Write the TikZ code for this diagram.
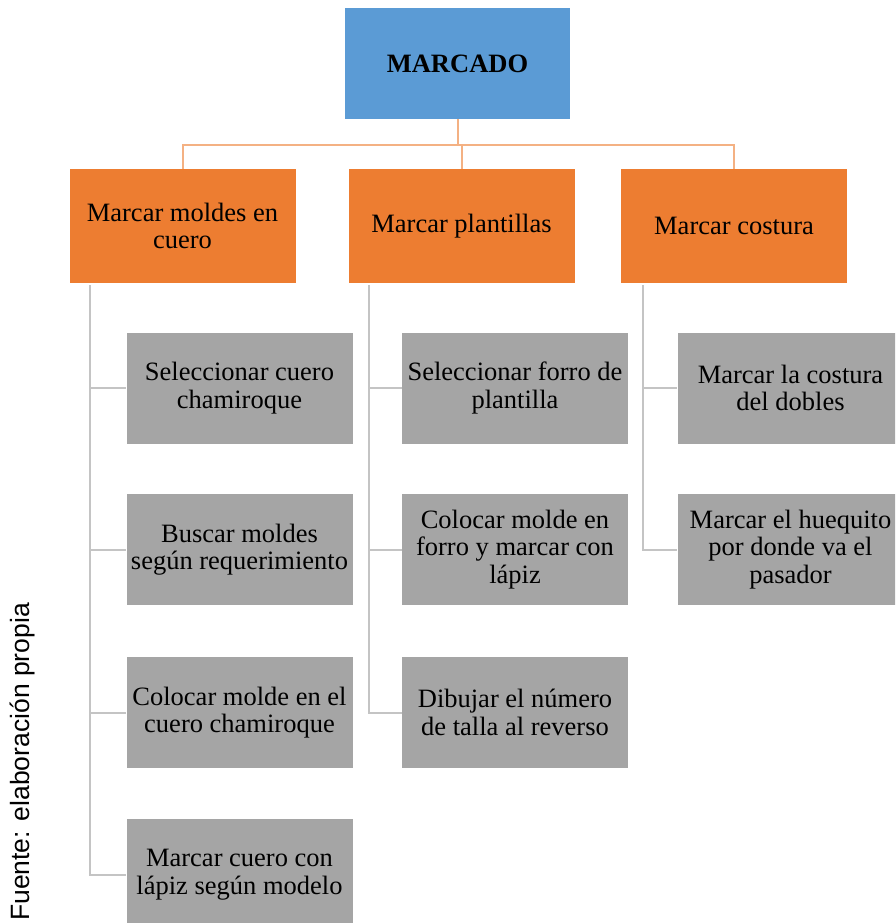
\documentclass[tikz,border=0pt]{standalone}
\usepackage{fontspec}
\setmainfont{Liberation Serif}
\newfontfamily\srcfont{Liberation Sans}
\definecolor{topblue}{HTML}{5B9BD5}
\definecolor{midorange}{HTML}{ED7D31}
\definecolor{leafgray}{HTML}{A5A5A5}
\definecolor{orangeline}{HTML}{F4B183}
\definecolor{grayline}{HTML}{C4C4C4}
\begin{document}
\begin{tikzpicture}[x=1pt,y=-1pt,
  boxbase/.style={inner sep=2pt, align=center, text=black,
    font=\fontsize{26.5}{27.5}\selectfont},
  topbox/.style={boxbase, fill=topblue, minimum width=225pt, minimum height=111pt, font=\fontsize{26.5}{27.5}\selectfont\bfseries},
  midbox/.style={boxbase, fill=midorange, minimum width=226pt, minimum height=114pt},
  leafbox/.style={boxbase, fill=leafgray, minimum width=226pt, minimum height=111pt},
  tieline/.style={draw=orangeline, line width=2pt},
  leafline/.style={draw=grayline, line width=2pt}]
\clip (0,0) rectangle (895,923);
\useasboundingbox (0,0) rectangle (895,923);

% root
\node[topbox] (root) at (457.5,63.5) {MARCADO};

% second level
\node[midbox] (o1) at (182.5,226) {Marcar moldes en\\cuero};
\node[midbox] (o2) at (461.5,226) {Marcar plantillas};
\node[midbox] (o3) at (734,226) {Marcar costura};

% leaves, first column
\node[leafbox] (g11) at (239.5,388) {Seleccionar cuero\\chamiroque};
\node[leafbox] (g12) at (239.5,549.5) {Buscar moldes\\según requerimiento};
\node[leafbox] (g13) at (239.5,712.5) {Colocar molde en el\\cuero chamiroque};
\node[leafbox] (g14) at (239.5,874.5) {Marcar cuero con\\lápiz según modelo};

% leaves, second column
\node[leafbox] (g21) at (515,388) {Seleccionar forro de\\plantilla};
\node[leafbox] (g22) at (515,549.5) {Colocar molde en\\forro y marcar con\\lápiz};
\node[leafbox] (g23) at (515,712.5) {Dibujar el número\\de talla al reverso};

% leaves, third column
\node[leafbox] (g31) at (790.5,388) {Marcar la costura\\del dobles};
\node[leafbox] (g32) at (790.5,549.5) {Marcar el huequito\\por donde va el\\pasador};

% root to second level
\coordinate (bus) at (458,145);
\draw[tieline] (root.south -| bus) -- (bus);
\draw[tieline] (o1.north) |- (bus) -| (o3.north);
\draw[tieline] (bus -| o2.north) -- (o2.north);

% second level to leaves
\coordinate (v1) at ([xshift=21pt,yshift=-2pt]o1.south west);
\coordinate (v2) at ([xshift=21pt,yshift=-2pt]o2.south west);
\coordinate (v3) at ([xshift=22pt,yshift=-2pt]o3.south west);
\draw[leafline] (v1) |- (g14.west);
\draw[leafline] (v1 |- g11.west) -- (g11.west);
\draw[leafline] (v1 |- g12.west) -- (g12.west);
\draw[leafline] (v1 |- g13.west) -- (g13.west);
\draw[leafline] (v2) |- (g23.west);
\draw[leafline] (v2 |- g21.west) -- (g21.west);
\draw[leafline] (v2 |- g22.west) -- (g22.west);
\draw[leafline] (v3) |- (g32.west);
\draw[leafline] (v3 |- g31.west) -- (g31.west);

% source note
\node[rotate=90, inner sep=0pt, font=\srcfont\fontsize{26.5}{30}\selectfont] (src) at (22,762) {Fuente: elaboración propia};
\end{tikzpicture}
\end{document}
